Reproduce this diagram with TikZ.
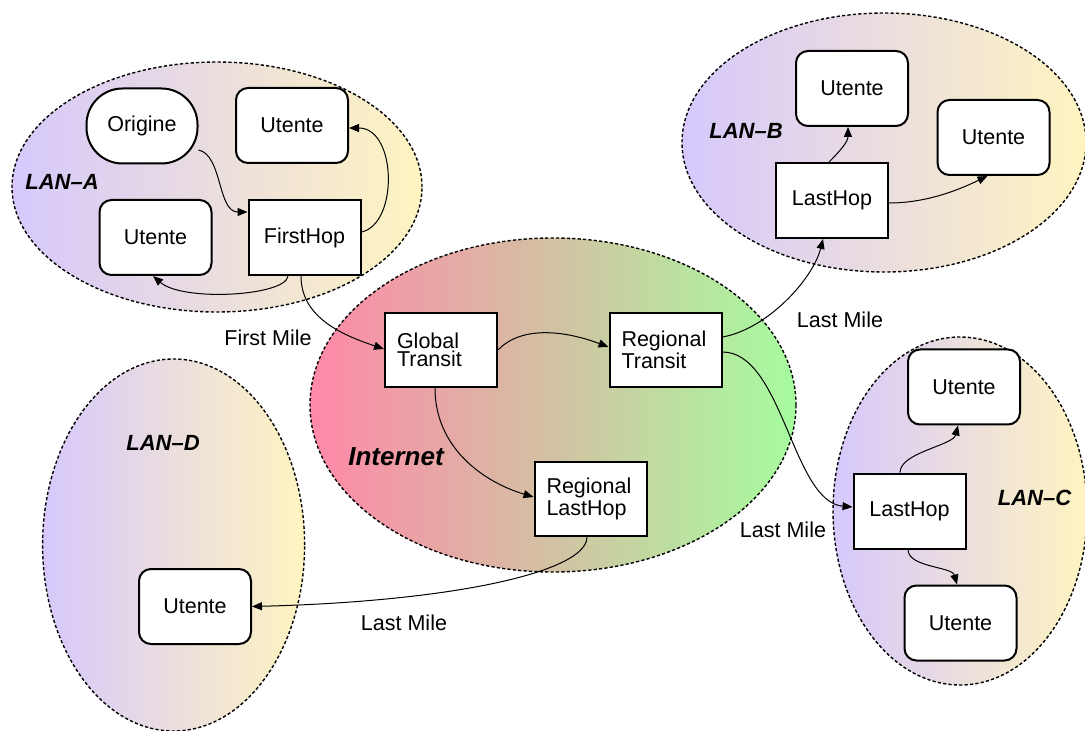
\documentclass[tikz,border=0pt]{standalone}
\usepackage{fontspec}
\setmainfont{Liberation Sans}
\usetikzlibrary{arrows.meta}
\definecolor{lanL}{RGB}{214,200,252}
\definecolor{lanR}{RGB}{255,244,192}
\definecolor{inetL}{RGB}{255,136,168}
\definecolor{inetR}{RGB}{166,252,158}
\begin{document}
\begin{tikzpicture}[x=0.5pt,y=-0.5pt,
 every node/.style={font=\fontsize{10.75}{12}\selectfont},
 ubox/.style={draw, fill=white, line width=1pt, rounded corners=6pt, minimum width=56pt, minimum height=37.5pt, inner sep=0pt},
 hbox/.style={draw, fill=white, line width=1pt, minimum width=56pt, minimum height=37.5pt, inner sep=0pt},
 tbox/.style={draw, fill=white, line width=1pt, minimum width=56pt, minimum height=37pt, inner xsep=6pt, inner ysep=0pt, text width=44pt, align=left, font=\fontsize{10.75}{9}\selectfont},
 region/.style={draw, dash pattern=on 1.6pt off 1.1pt, line width=0.7pt},
 lan/.style={region, left color=lanL, right color=lanR},
 lbl/.style={font=\fontsize{11}{13}\selectfont\bfseries\itshape},
 conn/.style={line width=0.5pt, -{Triangle[length=5pt,width=4pt]}},
]
\useasboundingbox (0,0) rectangle (1085,731);

% regions
\path[lan] (217,187) ellipse [x radius=102.5pt, y radius=62.5pt];
\path[lan] (884,142.5) ellipse [x radius=101pt, y radius=64.75pt];
\path[lan] (960,511) ellipse [x radius=63.5pt, y radius=87pt];
\path[lan] (173.6,545) ellipse [x radius=65.5pt, y radius=93pt];
\path[region, left color=inetL, right color=inetR] (553,405) ellipse [x radius=121.5pt, y radius=83.5pt];

% region labels
\node[lbl] (lA) at (62,182) {LAN–A};
\node[lbl] (lB) at (746,131) {LAN–B};
\node[lbl] (lC) at (1034.5,498) {LAN–C};
\node[lbl] (lD) at (163,443) {LAN–D};
\node[lbl, font=\fontsize{13}{15}\selectfont\bfseries\itshape] (inet) at (396,457) {Internet};

% LAN-A
\node[ubox, rounded corners=18pt, minimum width=55.5pt] (orig) at (142,126) {Origine};
\node[ubox] (uA1) at (292,125.5) {Utente};
\node[ubox] (uA2) at (155.5,237.5) {Utente};
\node[hbox] (fh) at (304.5,237.5) {FirstHop};

% Internet
\node[tbox] (gt) at (441,350) {Global\\Transit};
\node[tbox] (rt) at (665.5,350) {Regional\\Transit};
\node[tbox] (rl) at (590.5,499) {Regional\\LastHop};

% LAN-B
\node[hbox] (lhB) at (832,200.5) {LastHop};
\node[ubox] (uB1) at (852,88.5) {Utente};
\node[ubox] (uB2) at (993.5,137.5) {Utente};

% LAN-C
\node[hbox] (lhC) at (909.5,511) {LastHop};
\node[ubox] (uC1) at (964,387) {Utente};
\node[ubox] (uC2) at (960.5,623) {Utente};

% LAN-D
\node[ubox] (uD) at (195,606.5) {Utente};

% connector labels
\node (fm) at (268,338) {First Mile};
\node (lmB) at (840,320) {Last Mile};
\node (lmC) at (783,530) {Last Mile};
\node (lmD) at (404,623) {Last Mile};

% connectors
\draw[conn] ([yshift=-12pt]orig.east) .. controls +(24,5) and +(-30,0) .. ([yshift=12.75pt]fh.west);
\draw[conn] ([yshift=2.75pt]fh.east) .. controls +(37,-8) and +(48,0) .. ([yshift=-1.25pt]uA1.east);
\draw[conn] ([xshift=-8.25pt]fh.south) .. controls +(-2,20) and +(30,26) .. ([xshift=-1.25pt]uA2.south);
\draw[conn] ([xshift=-1.75pt]fh.south) .. controls +(0,40) and +(-45,-15) .. ([yshift=0.5pt]gt.west);
\draw[conn] (gt.east) .. controls +(25,-26) and +(-40,-15) .. ([yshift=1.5pt]rt.west);
\draw[conn] ([xshift=-3pt]gt.south) .. controls +(0,60) and +(-50,-15) .. ([yshift=1pt]rl.west);
\draw[conn] ([yshift=6.5pt]rt.east) .. controls +(45,-8) and +(-10,40) .. ([xshift=-4.5pt]lhB.south);
\draw[conn] ([yshift=-1pt]rt.east) .. controls +(60,0) and +(-60,-5) .. ([yshift=2pt]lhC.west);
\draw[conn] ([xshift=-1.75pt]rl.south) .. controls +(0,35) and +(200,-5) .. (uD.east);
\draw[conn] ([xshift=-1.5pt]lhB.north) .. controls +(10,-10) and +(0,15) .. ([xshift=-2pt]uB1.south);
\draw[conn] ([yshift=-1.25pt]lhB.east) .. controls +(40,0) and +(-25,12) .. ([xshift=-3pt]uB2.south);
\draw[conn] ([xshift=-4.75pt]lhC.north) .. controls +(0,-20) and +(-5,20) .. ([xshift=-3pt]uC1.south);
\draw[conn] ([xshift=-0.75pt]lhC.south) .. controls +(0,18) and +(-5,-18) .. ([xshift=-1.75pt]uC2.north);
\end{tikzpicture}
\end{document}
